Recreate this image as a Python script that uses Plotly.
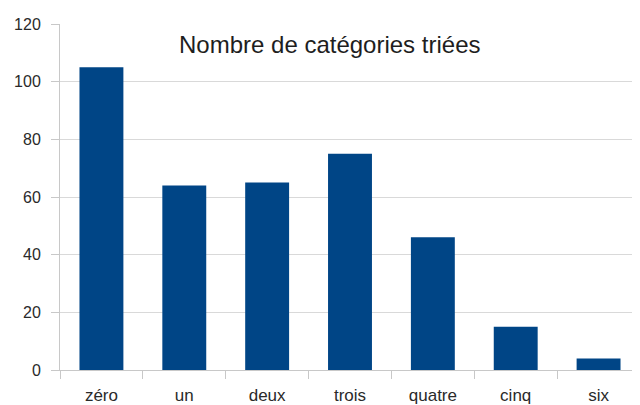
import plotly.graph_objects as go

categories = ["zéro", "un", "deux", "trois", "quatre", "cinq", "six"]
values = [105, 64, 65, 75, 46, 15, 4]
y_ticks = [0, 20, 40, 60, 80, 100, 120]
title_text = "Nombre de catégories triées"

fig = go.Figure(go.Bar(x=categories, y=values, marker=dict(color="#004586", line=dict(width=0))))

fig.update_layout(
    width=632, height=397,
    margin=dict(l=52, r=0, t=16, b=35),
    paper_bgcolor="white", plot_bgcolor="white",
    bargap=0.47,
    showlegend=False,
    font=dict(family="Liberation Sans, Arial, sans-serif", size=16, color="#2a2a2a"),
    annotations=[dict(text=title_text, x=0.464, y=0.94, xref="paper", yref="paper",
                      showarrow=False, font=dict(size=24, color="#1e1e1e"),
                      xanchor="center", yanchor="middle")],
)
fig.update_xaxes(
    showline=True, linecolor="#c8c8c8", linewidth=1,
    ticks="outside", tickson="boundaries", ticklen=8, tickcolor="#c8c8c8",
    showgrid=False, tickfont=dict(size=17), ticklabelstandoff=10,
)
fig.update_yaxes(
    range=[0, 120], tickvals=y_ticks, showline=True, linecolor="#c8c8c8", linewidth=1,
    ticks="outside", ticklen=8, tickcolor="#c8c8c8",
    showgrid=True, gridcolor="#d9d9d9", gridwidth=1, zeroline=False,
    tickfont=dict(size=16), ticklabelstandoff=7,
)
fig.write_html("out.html")
